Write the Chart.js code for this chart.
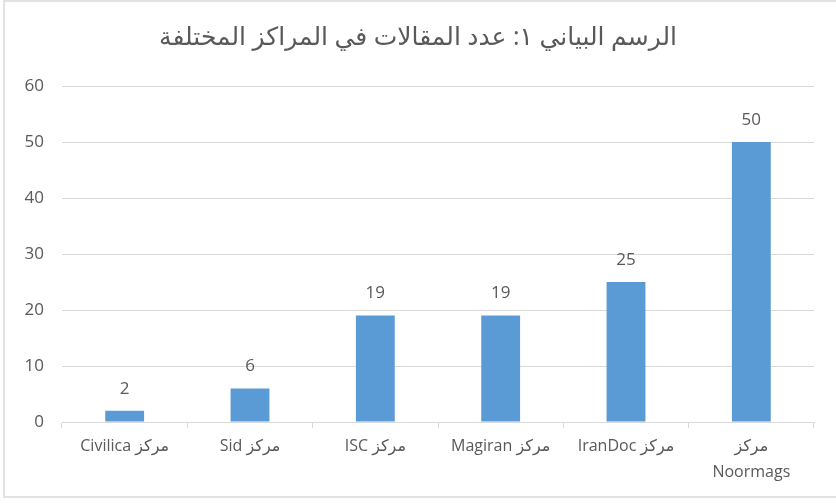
<!DOCTYPE html>
<html>
<head>
<meta charset="utf-8">
<script src="https://cdn.jsdelivr.net/npm/chart.js@4"></script>
<style>
  body { margin: 0; background: #fff; }
  #wrap { position: relative; width: 836px; height: 504px; overflow: hidden; }
  #frame { position: absolute; left: 3px; top: 0; width: 900px; height: 498px; border: 2px solid #e2e2e2; box-sizing: border-box; }
  #centres { position: absolute; left: 0; top: 0; }
</style>
</head>
<body>
<div id="wrap">
  <div id="frame"></div>
  <canvas id="centres" width="836" height="504" dir="rtl"></canvas>
</div>
<script>
const labels = ["مركز Civilica", "مركز Sid", "مركز ISC", "مركز Magiran", "مركز IranDoc", ["مركز", "Noormags"]];
const articles = [2, 6, 19, 19, 25, 50];
const yTicks = [0, 10, 20, 30, 40, 50, 60];

const textColor = "#595959";
const fontFamily = "'Open Sans', 'DejaVu Sans', sans-serif";

// draws the number above each bar
const valueLabels = {
  id: "valueLabels",
  afterDatasetsDraw(chart) {
    const ctx = chart.ctx;
    const meta = chart.getDatasetMeta(0);
    ctx.save();
    ctx.fillStyle = textColor;
    ctx.font = "17px " + fontFamily;
    ctx.textAlign = "center";
    ctx.textBaseline = "middle";
    meta.data.forEach((bar, i) => {
      ctx.fillText(String(chart.data.datasets[0].data[i]), bar.x, bar.y - 22);
    });
    ctx.restore();
  }
};

const ctx = document.getElementById("centres");
const myChart = new Chart(ctx, {
  type: "bar",
  data: {
    labels: labels,
    datasets: [{
      data: articles,
      backgroundColor: "#5B9BD5",
      categoryPercentage: 1,
      barPercentage: 0.31,
    }],
  },
  options: {
    responsive: false,
    animation: false,
    layout: { padding: { left: 22, right: 22, top: 0, bottom: 0 } },
    plugins: {
      legend: { display: false },
      tooltip: { enabled: false },
      title: {
        display: true,
        text: "الرسم البياني ١: عدد المقالات في المراكز المختلفة",
        color: textColor,
        font: { size: 25, family: fontFamily, weight: "normal", lineHeight: 1.2 },
        padding: { top: 23, bottom: 33 },
      },
    },
    scales: {
      x: {
        afterFit: s => { s.height = 82; },
        grid: {
          offset: true,
          drawOnChartArea: false,
          tickLength: 6,
          color: "#d9d9d9",
        },
        border: { color: "#d9d9d9" },
        ticks: {
          color: textColor,
          font: { size: 16, family: fontFamily, lineHeight: 1.6 },
          padding: 6,
          maxRotation: 0,
          autoSkip: false,
        },
      },
      y: {
        min: 0,
        max: 60,
        afterFit: s => { s.width = 40; },
        afterBuildTicks: s => { s.ticks = yTicks.map(v => ({ value: v })); },
        grid: { drawTicks: false, color: "#d9d9d9" },
        border: { display: false },
        ticks: {
          color: textColor,
          font: { size: 17, family: fontFamily },
          padding: 18,
        },
      },
    },
  },
  plugins: [valueLabels],
});
</script>
</body>
</html>
